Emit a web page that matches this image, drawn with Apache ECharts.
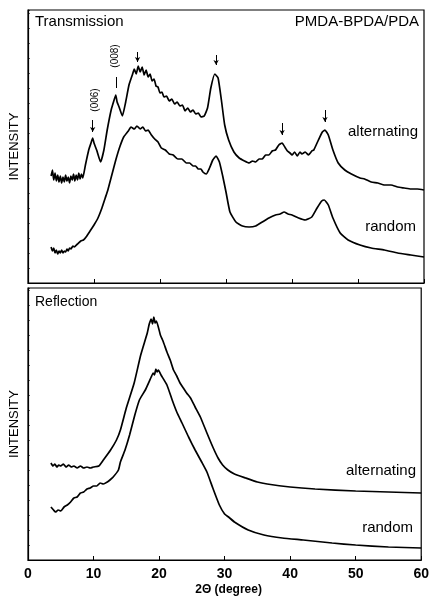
<!DOCTYPE html>
<html>
<head>
<meta charset="utf-8">
<script src="https://cdn.jsdelivr.net/npm/echarts@6/dist/echarts.min.js"></script>
<style>
  html, body { margin: 0; padding: 0; background: #fff; }
  #chart { width: 432px; height: 597px; }
</style>
</head>
<body>
<div id="chart"></div>
<script>
// 2θ (degree) vs intensity (arbitrary units)
const transAlternating = [
  [3.5,107],[3.7,113],[3.9,103],[4.1,110],[4.3,102],[4.5,108],[4.7,101],[4.9,107],[5.1,100],
  [5.3,106],[5.5,101],[5.7,108],[5.9,102],[6.1,106],[6.3,100],[6.5,107],[6.7,103],[6.9,109],
  [7.1,102],[7.3,108],[7.5,103],[7.7,110],[7.9,104],[8.1,109],[8.3,105],
  [8.7,118],[9.2,133],[9.6,141],[9.8,145],[10.0,140],[10.4,133],[11.0,121],[11.5,133],[12.0,153],[12.6,173],
  [13.0,182],[13.3,188],[13.5,181],[13.8,176],[14.3,167],[14.8,181],[15.3,198],
  [15.8,208],[16.1,214],[16.4,209],[16.7,217],[17.0,211],[17.3,216],[17.6,208],[17.9,213],
  [18.2,206],[18.5,209],[18.8,202],[19.1,204],[19.4,197],[19.7,196],[20.0,190],[20.3,191],
  [20.6,186],[21.0,187],[21.4,182],[21.8,184],[22.2,179],[22.6,181],[23.0,177],[23.4,178],
  [23.8,172],[24.2,175],[24.6,171],[25.0,173],[25.4,169],[25.8,170],[26.2,166],[26.7,167],
  [27.2,175],[27.7,195],[28.3,209],
  [28.8,205],[29.3,183],[29.8,158],[30.4,143],[31.2,131],[32.0,125],[32.8,122],[33.5,120],
  [34.0,122],[34.5,121],[35.0,124],[35.5,124],[36.0,128],[36.5,128],[37.0,132],[37.5,133],
  [38.0,138],[38.5,140],[39.0,135],[39.3,132],[39.7,130],[40.0,128],[40.4,131],[40.8,127],
  [41.2,131],[41.5,129],[42.0,131],[42.5,128],[43.0,132],[43.3,133],[44.0,143],[44.6,151],[45.0,153],[45.5,148],[46.2,133],
  [47.0,120],[48.0,113],[49.0,109],[50.3,105],[51.0,104],[52.0,101],[53.0,100],[54.0,98],
  [55.0,98],[56.0,96],[57.0,95],[58.0,94],[59.0,94],[60.0,93]
];
const transRandom = [
  [3.5,36],[3.7,32],[3.9,35],[4.1,30],[4.3,33],[4.5,29],[4.7,32],[4.9,30],[5.1,33],[5.3,30],
  [5.5,32],[5.7,31],[5.9,34],[6.1,32],[6.3,35],[6.5,34],[6.8,37],[7,36],[7.5,39],[8,42],[8.4,43],[8.8,46],
  [9.5,53],[10.0,58],[10.6,65],[11.2,75],[11.7,85],[12.1,93],[12.7,108],[13.3,123],[13.9,136],
  [14.5,146],[15.2,152],[15.6,156],[16.1,154],[16.5,157],[17.0,154],[17.4,156],[17.8,152],
  [18.2,153],[18.7,148],[19.2,144],[19.7,141],[20.2,135],[20.8,133],[21.4,129],[22.0,128],
  [22.7,124],[23.3,124],[24.0,120],[24.5,120],[25.0,117],[25.4,117],[25.8,114],[26.2,114],[26.5,111],[27.0,109],[27.5,115],[28.0,123],
  [28.5,127],[29.0,121],[29.5,107],[30.0,91],[30.6,71],[31.5,61],[32.5,57],[33.5,56],[34.5,57],
  [35.5,61],[36.5,65],[37.5,68],[38.2,69],[38.8,71],[39.4,69],[40.0,68],[41.0,65],[42.0,63],[43.0,66],[43.8,75],
  [44.5,82],[44.9,83],[45.5,78],[46.2,65],[47.3,50],[48.5,43],[50.3,38],[52.0,35],[54.0,33],
  [56.0,30],[58.0,28],[60.0,26]
];
const reflAlternating = [
  [3.5,97],[3.8,94],[4.1,96],[4.4,93],[4.7,95],[5,94],[5.4,96],[5.8,93],[6.2,95],[6.6,93],[7,94],
  [7.5,92],[8,94],[8.5,92],[9,93],[9.5,92],[10,93],[10.8,94],[11.5,100],[12.6,110],
  [13.5,120],[14.1,130],[15.0,152],[16.2,177],[17.2,205],[18.2,227],[18.5,236],[18.8,241],
  [19.0,236],[19.2,243],[19.4,237],[19.6,239],[20.2,225],[20.6,219],[21.2,208],[21.7,200],[22.2,190],[22.7,184],[23.2,177],[23.7,172],[24.2,167],[24.8,162],[25.5,153],
  [26.3,143],[27.3,127],[28.2,113],[29.0,102],[29.7,95],[30.5,90],[31.5,86],[33.2,82],[35,78],
  [36.5,76],[40,73],[43.8,71],[50,69],[55,68],[60,67]
];
const reflRandom = [
  [3.5,53],[3.9,50],[4.2,48],[4.6,50],[5,49],[5.5,53],[6,55],[6.5,58],[7,62],[7.5,63],[8,67],[8.5,68],[9,71],[9.5,72],[10,74],[10.5,74],[11,77],[11.5,76],[12.1,78],[12.5,80],[13,83],
  [13.8,90],[14.1,98],[14.8,110],[15.5,125],[16.3,145],[17.0,160],[17.9,170],[18.8,183],
  [19.1,187],[19.3,185],[19.5,191],[19.7,188],[19.9,190],[20.3,185],[21.2,175],[22.0,160],[22.7,148],[23.5,137],[24.5,123],
  [25.5,110],[26.5,98],[27.3,88],[28.2,72],[29.2,55],[30.0,46],[30.6,43],[31.5,38],[33.6,30],
  [36,25],[38.8,22],[42,20],[46.4,17],[50,15],[55,13],[60,12]
];
// peak markers in the transmission panel: [2θ, from, to]
const peakArrows = [[9.8,163,151],[16.6,231,221],[28.5,228,218],[38.5,160,148],[45.0,173,161]];
const peakBars = [[13.3,206,195]];
const xTicks = [0, 10, 20, 30, 40, 50, 60];

const FONT = 'Liberation Sans, Arial, sans-serif';
const chart = echarts.init(document.getElementById('chart'));

const lineSeries = (data, idx) => ({
  type: 'line',
  xAxisIndex: idx,
  yAxisIndex: idx,
  data: data,
  showSymbol: false,
  smooth: 0.15,
  lineStyle: { color: '#000', width: 1.7 },
  animation: false
});

const arrowLines = peakArrows.map(a => [
  { coord: [a[0], a[1]] },
  { coord: [a[0], a[2]], symbol: 'arrow', symbolSize: [4, 5] }
]).concat(peakBars.map(b => [{ coord: [b[0], b[1]] }, { coord: [b[0], b[2]] }]));

const xAxisBase = {
  type: 'value',
  min: xTicks[0],
  max: xTicks[xTicks.length - 1],
  interval: 10,
  splitLine: { show: false },
  axisLine: { lineStyle: { color: '#000', width: 1.2 } },
  axisTick: { inside: true, length: 4, lineStyle: { color: '#000' } }
};
const yAxisBase = {
  type: 'value',
  min: 0,
  interval: 15,
  name: 'INTENSITY',
  nameLocation: 'middle',
  nameRotate: 90,
  nameGap: 7,
  nameTextStyle: { fontFamily: FONT, fontSize: 13, color: '#000' },
  splitLine: { show: false },
  axisLabel: { show: false },
  axisLine: { lineStyle: { color: '#000', width: 1.2 } },
  axisTick: { inside: true, length: 2, lineStyle: { color: '#000', width: 0.6 } }
};

const option = {
  backgroundColor: '#fff',
  animation: false,
  grid: [
    { left: 28, top: 10, width: 396, height: 273, show: true, borderColor: '#000', borderWidth: 1.2 },
    { left: 28, top: 288, width: 396, height: 272, show: true, borderColor: '#000', borderWidth: 1.2 }
  ],
  xAxis: [
    Object.assign({}, xAxisBase, { gridIndex: 0, axisLabel: { show: false } }),
    Object.assign({}, xAxisBase, {
      gridIndex: 1,
      name: '2Θ (degree)',
      nameLocation: 'middle',
      nameGap: 24,
      nameTextStyle: { fontFamily: FONT, fontSize: 12, fontWeight: 'bold', color: '#000', padding: [0, 0, 0, 8] },
      axisLabel: { fontFamily: FONT, fontSize: 14, fontWeight: 'bold', color: '#000', margin: 7 }
    })
  ],
  yAxis: [
    Object.assign({}, yAxisBase, { gridIndex: 0, max: 273 }),
    Object.assign({}, yAxisBase, { gridIndex: 1, max: 272 })
  ],
  series: [
    Object.assign(lineSeries(transAlternating, 0), {
      markLine: {
        silent: true,
        symbol: 'none',
        label: { show: false },
        lineStyle: { color: '#000', width: 1, type: 'solid' },
        data: arrowLines
      }
    }),
    lineSeries(transRandom, 0),
    lineSeries(reflAlternating, 1),
    lineSeries(reflRandom, 1)
  ],
  graphic: [
    { type: 'text', left: 35, top: 14, style: { text: 'Transmission', font: '15px ' + FONT, fill: '#000' } },
    { type: 'text', right: 13, top: 14, style: { text: 'PMDA-BPDA/PDA', font: '15px ' + FONT, fill: '#000' } },
    { type: 'text', right: 14, top: 124, style: { text: 'alternating', font: '15px ' + FONT, fill: '#000' } },
    { type: 'text', right: 16, top: 219, style: { text: 'random', font: '15px ' + FONT, fill: '#000' } },
    { type: 'text', left: 35, top: 295, style: { text: 'Reflection', font: '14px ' + FONT, fill: '#000' } },
    { type: 'text', right: 16, top: 463, style: { text: 'alternating', font: '15px ' + FONT, fill: '#000' } },
    { type: 'text', right: 19, top: 520, style: { text: 'random', font: '15px ' + FONT, fill: '#000' } },
    { type: 'text', x: 95, y: 100, rotation: Math.PI / 2,
      style: { text: '(006)', font: '10px ' + FONT, fill: '#000', align: 'center', verticalAlign: 'middle' } },
    { type: 'text', x: 115, y: 56, rotation: Math.PI / 2,
      style: { text: '(008)', font: '10px ' + FONT, fill: '#000', align: 'center', verticalAlign: 'middle' } }
  ]
};

chart.setOption(option);
</script>
</body>
</html>
